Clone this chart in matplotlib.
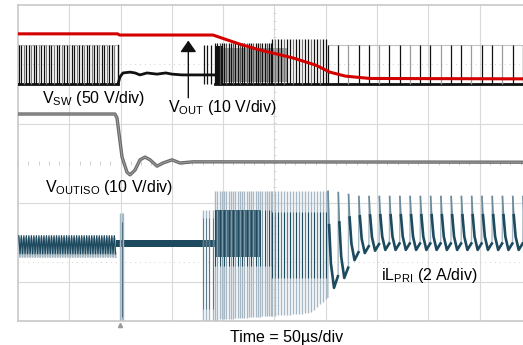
import numpy as np
import matplotlib.pyplot as plt

plt.rcParams['font.family'] = 'Liberation Sans'
plt.rcParams['mathtext.fontset'] = 'custom'
plt.rcParams['mathtext.rm'] = 'Liberation Sans'
plt.rcParams['mathtext.it'] = 'Liberation Sans'

# time in us (50 us/div), amplitude in screen divisions (0 = centre line)

# VOUT (red)
vout_t = [0, 97, 99, 190, 216, 236, 268, 290, 304, 319, 343, 500]
vout_y = [3.27, 3.27, 3.24, 3.24, 3.01, 2.86, 2.66, 2.48, 2.30, 2.20, 2.14, 2.13]

# VSW levels and switching pulses
vsw_low = 2.0
vsw_high = 3.0
vsw_a = (0.8, 96.0, 2.45)          # start, stop, period
vsw_b = [181.3, 184.2, 188.1]       # few pulses before restart
vsw_c = (192.0, 248.0, 2.2)
vsw_d = (248.0, 302.0, 2.9)
vsw_e = (302.0, 500.0, 10.0)
# VSW dc level while switching is stopped
vsw_dc_t = [97.5, 99.4, 102.3, 109.2, 114, 118.9, 125.7, 135.5, 144, 150, 160, 180, 192]
vsw_dc_y = [2.0, 2.18, 2.28, 2.30, 2.28, 2.23, 2.28, 2.25, 2.28, 2.25, 2.23, 2.23, 2.23]

# VOUTISO (grey)
viso_t = [0, 94.5, 96.5, 101.4, 106.2, 109.2, 114, 118.9, 123.8, 128.7, 135.5, 141.3, 150.1, 157.9, 170.6, 500]
viso_y = [1.24, 1.24, 1.14, 0.15, -0.23, -0.30, -0.18, 0.08, 0.15, 0.08, -0.08, 0.0, 0.08, 0.0, 0.03, 0.02]

# iLPRI (teal)
il_a_hi, il_a_lo = -1.84, -2.30
il_flat_hi, il_flat_lo = -1.95, -2.12
il_kick_t = [99.6, 101.0, 102.6]
il_kick_top, il_kick_bot = -1.27, -3.97
il_b = [180.3, 183.2, 186.1, 189.9]
il_burst_top = -0.70
il_burst_bot_t = [192, 285, 297, 302]
il_burst_bot = [-3.97, -3.80, -3.52, -3.40]
il_e_peak = [-0.72, -0.75, -0.80, -0.85]
il_e_trough = [-3.16, -2.91, -2.46, -2.28, -2.22, -2.20]
il_e_shape_t = [0.2, 1.2, 3.0, 6.0, 9.8]
il_e_shape_f = [0.0, 0.35, 0.75, 1.0, 0.88]

RED = '#d40000'
BLK = '#111111'
GRY = '#8c8c8c'
TEAL = '#1d4a5e'
LTEAL = '#a6b8c3'

fig = plt.figure(figsize=(5.23, 3.45), dpi=100)
ax = fig.add_axes([18 / 523, 24 / 345, 513 / 523, 316 / 345])
ax.set_xlim(0, 500)
ax.set_ylim(-4, 4)
ax.axis('off')

# graticule
gc = '#d9d9d9'
for t in range(50, 500, 50):
    ax.plot([t, t], [-4, 4], color=gc, lw=0.8, zorder=0)
for y in [1, -1, -3]:
    ax.plot([0, 500], [y, y], color=gc, lw=0.8, zorder=0)
for y in [2.5, -2.5]:
    ax.plot([0, 500], [y, y], color='#d0d0d0', lw=0.7, ls=(0, (1, 4)), zorder=0)
ax.plot([0, 500], [4, 4], color='#c8c8c8', lw=1.2, clip_on=False, zorder=0)
ax.plot([0, 500], [-4, -4], color='#c8c8c8', lw=1.2, clip_on=False, zorder=0)
ax.plot([0, 0], [-4, 4], color='#c8c8c8', lw=1.2, clip_on=False, zorder=0)
ticks_t = np.arange(0, 500, 10)
ax.vlines(ticks_t, -0.05, 0.05, color='#c8c8c8', lw=0.6, zorder=0)
ticks_y = np.arange(-4, 4, 0.2)
ax.hlines(ticks_y, 248.5, 251.5, color='#d0d0d0', lw=0.6, zorder=0)

# ---- VSW ----
def pulses(p):
    return np.arange(p[0], p[1], p[2])

def alt_colors(n, cols):
    return [cols[i % len(cols)] for i in range(n)]

ta = pulses(vsw_a)
ax.plot([0, 97.5], [vsw_low, vsw_low], color=BLK, lw=2.0, zorder=2)
ax.plot([0, 97.5], [vsw_high, vsw_high], color='#b5b5b5', lw=0.8, ls=(0, (2, 1)), zorder=2)
ax.vlines(ta, vsw_low, vsw_high, colors=alt_colors(len(ta), [BLK, BLK, '#7a7a7a']), lw=0.9, zorder=2)
ax.plot([97.5, 97.5], [vsw_low, vsw_high], color=BLK, lw=1.0, zorder=2)
ax.plot(vsw_dc_t, vsw_dc_y, color=BLK, lw=2.0, zorder=2)
ax.vlines(vsw_b, vsw_low, vsw_high, colors=BLK, lw=0.9, zorder=2)
ax.plot([192, 500], [vsw_low, vsw_low], color=BLK, lw=2.0, zorder=2)
ax.fill_between([192, 200], vsw_low, 2.95, color=BLK, lw=0, zorder=2)
ax.fill_between([200, 262], 2.05, 2.9, color='#a8a8a8', lw=0, zorder=1)
tc = pulses(vsw_c)
ax.vlines(tc, vsw_low, 3.05, colors=alt_colors(len(tc), [BLK, BLK, '#555555']), lw=0.9, zorder=2)
td = pulses(vsw_d)
ax.vlines(td, vsw_low, 3.15, colors=alt_colors(len(td), [BLK, '#777777', BLK]), lw=0.9, zorder=2)
te = pulses(vsw_e)
ax.plot([302, 500], [vsw_high, vsw_high], color='#c4c4c4', lw=0.8, zorder=1)
ax.vlines(te, vsw_low, vsw_high, colors=alt_colors(len(te), [BLK, BLK, '#9a9a9a']), lw=0.9, zorder=2)

# ---- VOUT ----
ax.plot(vout_t, vout_y, color=RED, lw=2.2, zorder=3)

# ---- VOUTISO ----
ax.plot(viso_t, viso_y, color='#6a6a6a', lw=2.4, zorder=3)
ax.plot(viso_t, viso_y, color='#a0a0a0', lw=0.7, zorder=3)

# ---- iLPRI ----
zx = np.ravel(np.column_stack([ta, ta + 1.2]))
ax.plot(zx, np.tile([il_a_hi - 0.06, il_a_lo - 0.08], len(ta)), color=LTEAL, lw=1.4, zorder=2)
ax.plot(zx, np.tile([il_a_hi, il_a_lo], len(ta)), color=TEAL, lw=0.9, zorder=2)
ax.fill_between([96, 192], il_flat_lo, il_flat_hi, color=TEAL, lw=0, zorder=2)
ax.vlines(il_kick_t, il_kick_bot, il_kick_top, colors=LTEAL, lw=1.0, zorder=3)
ax.vlines([101.0], -3.9, -1.5, colors='#4f6f80', lw=0.8, zorder=3)
ax.vlines(il_b, il_kick_bot, -1.19, colors=LTEAL, lw=1.0, zorder=3)
ax.vlines(il_b, -3.7, -1.4, colors='#4f6f80', lw=0.6, zorder=3)

tcd = np.concatenate([tc, td])
bot = np.interp(tcd, il_burst_bot_t, il_burst_bot)
ax.vlines(tcd, bot, il_burst_top, colors=LTEAL, lw=1.0, zorder=2)
ax.fill_between([192, 236], -2.38, -1.19, color=TEAL, lw=0, alpha=0.8, zorder=2)
ax.vlines(tc, -2.6, -1.2, colors=alt_colors(len(tc), [TEAL, '#7f9aa8']), lw=0.7, zorder=2)
ax.vlines(td, -2.9, -1.25, colors=alt_colors(len(td), [TEAL, '#5d7c8c']), lw=0.8, zorder=2)

prev = il_burst_bot[-1]
for i, ts in enumerate(te):
    pk = il_e_peak[min(i, len(il_e_peak) - 1)]
    tr = il_e_trough[min(i, len(il_e_trough) - 1)]
    ax.plot([ts, ts + 0.2], [prev, pk], color=LTEAL, lw=1.0, zorder=2)
    xs = [ts + s for s in il_e_shape_t]
    ys = [pk + f * (tr - pk) for f in il_e_shape_f]
    ax.plot(xs[:2], ys[:2], color='#6d8b9a', lw=1.2, zorder=3)
    ax.plot(xs[1:], ys[1:], color=TEAL, lw=1.9, zorder=3)
    prev = ys[-1]

ax.plot([99.4], [-4.1], marker='^', ms=3, color='#9a9a9a', clip_on=False)

# ---- labels ----
fs = 11.5
ax.text(23.4, 1.52, r'V$_{\mathrm{SW}}$ (50 V/div)', fontsize=fs, va='baseline', ha='left')
ax.text(146.2, 1.29, r'V$_{\mathrm{OUT}}$ (10 V/div)', fontsize=fs, va='baseline', ha='left')
ax.text(26.3, -0.73, r'V$_{\mathrm{OUTISO}}$ (10 V/div)', fontsize=fs, va='baseline', ha='left')
ax.text(353.8, -2.96, r'iL$_{\mathrm{PRI}}$ (2 A/div)', fontsize=fs, va='baseline', ha='left')
ax.text(206.6, -4.53, 'Time = 50µs/div', fontsize=fs, va='baseline', ha='left')
ax.annotate('', xy=(166, 3.1), xytext=(166, 1.65),
            arrowprops=dict(arrowstyle='-|>,head_length=0.5,head_width=0.35',
                            color=BLK, lw=1.0, mutation_scale=14, shrinkA=0, shrinkB=0))

fig.savefig('out.png', dpi=100)
